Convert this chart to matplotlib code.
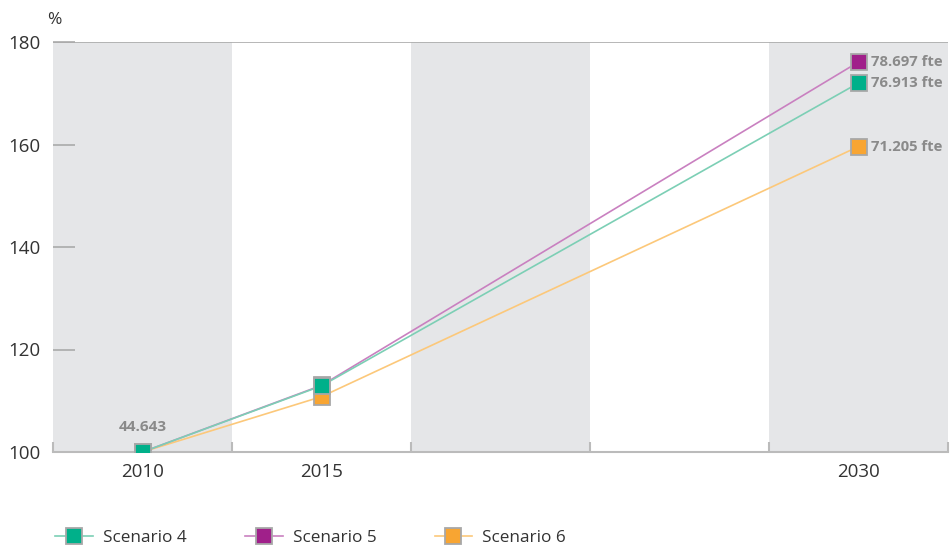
import matplotlib
matplotlib.use("Agg")
import matplotlib.pyplot as plt
from matplotlib.lines import Line2D

years = ["2010", "2015", "", "", "2030"]
point_idx = [0, 1, 4]
scenario_names = ["Scenario 4", "Scenario 5", "Scenario 6"]
s4 = [100.0, 112.9, 172.0]
s5 = [100.0, 113.0, 176.1]
s6 = [100.0, 110.8, 159.6]
end_labels = ["76.913 fte", "78.697 fte", "71.205 fte"]
start_label = "44.643"

marker_colors = ["#00b08a", "#a0208a", "#f8a532"]
line_colors = ["#7ccfb5", "#c980c0", "#fcc87a"]

plt.rcParams['font.family'] = ['Open Sans', 'DejaVu Sans']

fig = plt.figure(figsize=(9.52, 5.51), dpi=100)
W, H = 952, 551
ax = fig.add_axes([53 / W, (H - 452) / H, (948 - 53) / W, (452 - 42) / H])
ax.set_xlim(-0.5, 4.5)
ax.set_ylim(100, 180)

for i in [0, 2, 4]:
    ax.axvspan(i - 0.5, i + 0.5, color="#e5e6e8", zorder=0, lw=0)

ax.axhline(180, color="#aaaaaa", lw=1.2, zorder=1)

series = [s4, s5, s6]
order = [2, 1, 0]
for k in order:
    ax.plot(point_idx, series[k], color=line_colors[k], lw=1.2, zorder=2 + (2 - k))
    ax.plot(point_idx, series[k], ls="none", marker="s", ms=11, mfc=marker_colors[k],
            mec="#a8a8a8", mew=1.3, zorder=5 + (2 - k))

for k in range(3):
    ax.annotate(end_labels[k], (4, series[k][-1]), xytext=(9, 0), textcoords="offset points",
                va="center", ha="left", fontsize=10.7, fontweight="bold", color="#8a8a8a")
ax.annotate(start_label, (0, 100), xytext=(0, 13), textcoords="offset points",
            va="bottom", ha="center", fontsize=11, fontweight="bold", color="#8a8a8a")

for sp in ["top", "right", "left"]:
    ax.spines[sp].set_visible(False)
ax.spines["bottom"].set_color("#bbbbbb")
ax.spines["bottom"].set_linewidth(1.5)

ax.set_xticks(range(5))
ax.set_xticklabels(years)
ax.tick_params(axis="x", length=0, labelsize=13.5, labelcolor="#333333", pad=8)
ax.set_xticks([i + 0.5 for i in range(-1, 5)], minor=True)
ax.tick_params(axis="x", which="minor", direction="in", length=7, color="#bbbbbb", width=1.5)

ax.set_yticks([100, 120, 140, 160, 180])
ax.tick_params(axis="y", direction="in", length=16, color="#aaaaaa", width=1.2,
               labelsize=13.5, labelcolor="#333333", pad=9)

fig.text(47 / W, 1 - 20 / H, "%", fontsize=12.5, color="#333333", va="center")

handles = [Line2D([0], [0], color=line_colors[k], lw=1.2, marker="s", ms=11,
                  mfc=marker_colors[k], mec="#a8a8a8", mew=1.3) for k in range(3)]
fig.legend(handles, scenario_names, loc="center left", bbox_to_anchor=(40 / W, 1 - 538 / H),
           ncol=3, frameon=False, fontsize=12.3, handlelength=2.2, columnspacing=3.4,
           handletextpad=0.6, labelcolor="#333333")

fig.savefig("out.png", dpi=100)
